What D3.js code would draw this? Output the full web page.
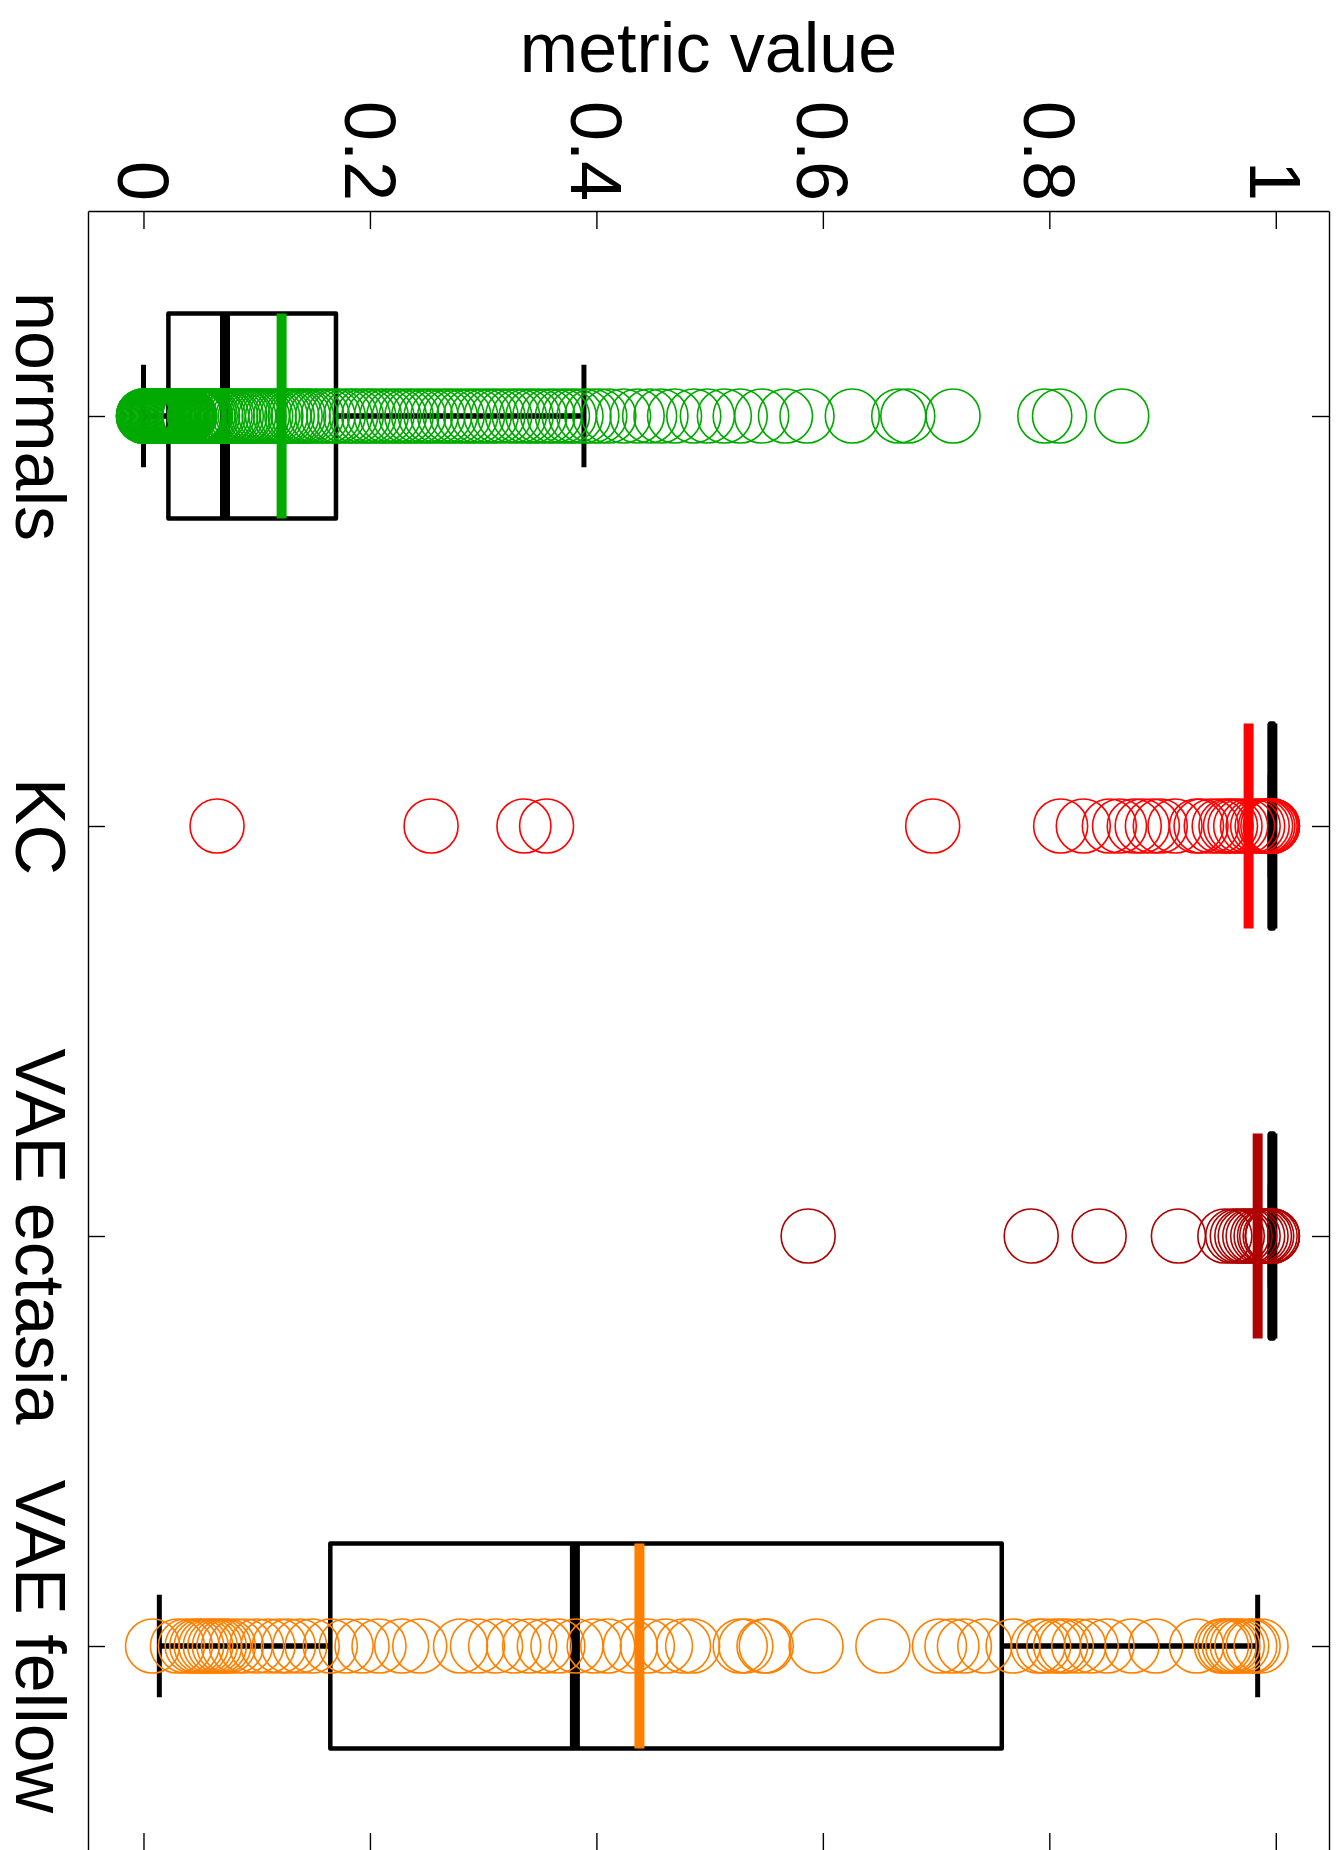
<!DOCTYPE html>
<html>
<head>
<meta charset="utf-8">
<script src="https://cdn.jsdelivr.net/npm/d3@7"></script>
<style>
  body { margin: 0; background: #fff; }
  svg { display: block; }
</style>
</head>
<body>
<script>
// values
const categories = ["normals", "KC", "VAE ectasia", "VAE fellow"];
const xTicks = [0, 0.2, 0.4, 0.6, 0.8, 1];

const normalsValues = [
  0, 0, 0, 0.001, 0.002, 0.003, 0.003, 0.004, 0.005, 0.006, 0.007, 0.008, 0.009, 0.010,
  0.011, 0.012, 0.012, 0.013, 0.014, 0.015, 0.016, 0.017, 0.018, 0.019, 0.020, 0.021,
  0.022, 0.023, 0.024, 0.025, 0.026, 0.027, 0.028, 0.029, 0.030, 0.031, 0.032, 0.033,
  0.034, 0.035, 0.036, 0.037, 0.038, 0.039, 0.040, 0.041, 0.045, 0.046, 0.047, 0.048,
  0.049, 0.050, 0.052, 0.053, 0.054, 0.055, 0.057,
  0.059, 0.061, 0.064, 0.066, 0.069, 0.072, 0.074, 0.077, 0.079, 0.082, 0.085, 0.088,
  0.090, 0.093, 0.096, 0.099, 0.102, 0.105, 0.108, 0.111, 0.114, 0.117, 0.121, 0.124,
  0.127, 0.131, 0.134, 0.137, 0.141, 0.144, 0.148,
  0.153, 0.158, 0.163, 0.168, 0.172, 0.178, 0.183, 0.188, 0.194, 0.199, 0.204, 0.210,
  0.215, 0.221, 0.226, 0.232, 0.237, 0.243, 0.249, 0.254, 0.260, 0.266, 0.271, 0.277,
  0.283, 0.289, 0.295, 0.301, 0.307, 0.313, 0.319, 0.326, 0.332, 0.338, 0.344, 0.350,
  0.357, 0.363, 0.370, 0.376, 0.382, 0.389, 0.396, 0.403,
  0.411, 0.424, 0.436, 0.447, 0.457, 0.469, 0.486, 0.498, 0.513, 0.527, 0.546, 0.567,
  0.586, 0.626, 0.667, 0.675, 0.715, 0.796, 0.809, 0.864
];
const kcValues = [
  0.065, 0.254, 0.336, 0.356, 0.697, 0.810, 0.830, 0.853, 0.862, 0.875, 0.882, 0.891,
  0.898, 0.911, 0.930, 0.934, 0.943, 0.950, 0.956, 0.960, 0.964, 0.969, 0.975, 0.980,
  0.984, 0.988, 0.991, 0.993, 0.995, 0.996, 0.997, 0.997, 0.997, 0.997
];
const ectasiaValues = [
  0.587, 0.784, 0.844, 0.914, 0.955, 0.962, 0.966, 0.970, 0.973, 0.977, 0.980, 0.984,
  0.987, 0.990, 0.992, 0.995, 0.997, 0.997, 0.997
];
const fellowValues = [
  0.008, 0.030, 0.037, 0.043, 0.047, 0.051, 0.055, 0.059, 0.063, 0.067, 0.071, 0.075,
  0.082, 0.090, 0.100, 0.110, 0.120, 0.128, 0.138, 0.149, 0.165, 0.179, 0.193, 0.208,
  0.228, 0.244, 0.280, 0.295, 0.311, 0.327, 0.341, 0.354, 0.366, 0.382, 0.398, 0.410,
  0.430, 0.445, 0.461, 0.477, 0.485, 0.527, 0.532, 0.548, 0.550, 0.594, 0.653, 0.703,
  0.714, 0.725, 0.743, 0.768, 0.790, 0.795, 0.804, 0.810, 0.815, 0.826, 0.837, 0.851,
  0.873, 0.894, 0.930, 0.952, 0.955, 0.959, 0.962, 0.966, 0.970, 0.977, 0.980, 0.987
];

// box statistics per category
const lowerWhisker = [0.000, 0.995, 0.995, 0.014];
const q1Values     = [0.022, 0.995, 0.995, 0.165];
const medianValues = [0.072, 0.997, 0.997, 0.381];
const q3Values     = [0.170, 0.998, 0.998, 0.758];
const upperWhisker = [0.389, 0.998, 0.998, 0.984];
const meanValues   = [0.122, 0.976, 0.984, 0.438];

const groupValues = [normalsValues, kcValues, ectasiaValues, fellowValues];
const groupColors = ["#00aa00", "#ff0000", "#b00000", "#ff8000"];

const width = 1339;
const height = 1850;
const plotLeft = 88, plotRight = 1329, plotTop = 211, plotBottom = 1851;
const font = "'Liberation Sans', Arial, Helvetica, sans-serif";

const svg = d3.select('body').append('svg').attr('width', width).attr('height', height);

const x = d3.scaleLinear().domain([-0.049, 1.047]).range([plotLeft, plotRight]);
const y = d3.scaleLinear().domain([0.5, 4.5]).range([plotTop, plotBottom]);

const boxHalf = y(1.25) - y(1);
const capHalf = y(1.125) - y(1);

const groups = categories.map((name, i) => ({
  name: name,
  pos: i + 1,
  values: groupValues[i],
  color: groupColors[i],
  lo: lowerWhisker[i], q1: q1Values[i], med: medianValues[i],
  q3: q3Values[i], hi: upperWhisker[i], mean: meanValues[i]
}));

// boxes and whiskers
const boxG = svg.append('g');
boxG.selectAll('rect.box')
  .data(groups)
  .enter()
  .append('rect')
  .attr('class', 'box')
  .attr('x', d => x(d.q1))
  .attr('y', d => y(d.pos) - boxHalf)
  .attr('width', d => x(d.q3) - x(d.q1))
  .attr('height', 2 * boxHalf)
  .style('fill', 'none')
  .style('stroke', 'black')
  .style('stroke-width', 4.5)
  .style('stroke-linejoin', 'round');

boxG.selectAll('line.whiskerLow')
  .data(groups)
  .enter()
  .append('line')
  .attr('x1', d => x(d.lo)).attr('x2', d => x(d.q1))
  .attr('y1', d => y(d.pos)).attr('y2', d => y(d.pos))
  .style('stroke', 'black').style('stroke-width', 5.5);

boxG.selectAll('line.whiskerHigh')
  .data(groups)
  .enter()
  .append('line')
  .attr('x1', d => x(d.q3)).attr('x2', d => x(d.hi))
  .attr('y1', d => y(d.pos)).attr('y2', d => y(d.pos))
  .style('stroke', 'black').style('stroke-width', 5.5);

boxG.selectAll('line.cap')
  .data(groups.flatMap(g => [{v: g.lo, pos: g.pos}, {v: g.hi, pos: g.pos}]))
  .enter()
  .append('line')
  .attr('x1', d => x(d.v)).attr('x2', d => x(d.v))
  .attr('y1', d => y(d.pos) - capHalf).attr('y2', d => y(d.pos) + capHalf)
  .style('stroke', 'black').style('stroke-width', 5);

boxG.selectAll('line.median')
  .data(groups)
  .enter()
  .append('line')
  .attr('x1', d => x(d.med)).attr('x2', d => x(d.med))
  .attr('y1', d => y(d.pos) - boxHalf).attr('y2', d => y(d.pos) + boxHalf)
  .style('stroke', 'black').style('stroke-width', 10);

// all the points, open circles
groups.forEach(g => {
  svg.append('g')
    .selectAll('circle')
    .data(g.values)
    .enter()
    .append('circle')
    .attr('cx', d => x(d))
    .attr('cy', y(g.pos))
    .attr('r', 27)
    .style('fill', 'none')
    .style('stroke', g.color)
    .style('stroke-width', 1.6);
});

// mean lines on top
svg.append('g').selectAll('line')
  .data(groups)
  .enter()
  .append('line')
  .attr('x1', d => x(d.mean)).attr('x2', d => x(d.mean))
  .attr('y1', d => y(d.pos) - boxHalf).attr('y2', d => y(d.pos) + boxHalf)
  .style('stroke', d => d.color).style('stroke-width', 10);

// axes (frame with inward ticks)
function styleAxis(g) {
  g.attr('font-family', font).attr('font-size', 72);
  g.select('.domain').style('stroke', 'black').style('stroke-width', 1.4);
  g.selectAll('.tick line').style('stroke', 'black').style('stroke-width', 1.4);
  g.selectAll('.tick text').style('fill', 'black');
}

const topAxis = svg.append('g')
  .attr('transform', `translate(0,${plotTop})`)
  .call(d3.axisTop(x).tickValues(xTicks).tickSize(-18).tickSizeOuter(0).tickFormat(d => String(d)))
  .call(styleAxis);
topAxis.selectAll('.tick text')
  .attr('x', 0).attr('y', 0).attr('dy', '0.36em')
  .attr('text-anchor', 'end')
  .attr('transform', 'translate(0,-10) rotate(90)');

svg.append('g')
  .attr('transform', `translate(0,${plotBottom})`)
  .call(d3.axisBottom(x).tickValues(xTicks).tickSize(-18).tickSizeOuter(0).tickFormat(''))
  .call(styleAxis);

// category labels, rotated, baseline a bit in from the page edge
const leftAxis = svg.append('g')
  .attr('transform', `translate(${plotLeft},0)`)
  .call(d3.axisLeft(y).tickValues([1, 2, 3, 4]).tickSize(-17).tickSizeOuter(0).tickFormat(d => categories[d - 1]))
  .call(styleAxis);
leftAxis.selectAll('.tick text')
  .attr('x', 0).attr('y', 0).attr('dy', 0)
  .attr('text-anchor', 'middle')
  .attr('font-size', 70)
  .attr('transform', `translate(${16 - plotLeft},0) rotate(90)`);

svg.append('g')
  .attr('transform', `translate(${plotRight},0)`)
  .call(d3.axisRight(y).tickValues([1, 2, 3, 4]).tickSize(-17).tickSizeOuter(0).tickFormat(''))
  .call(styleAxis);

// title
svg.append('text')
  .attr('x', (plotLeft + plotRight) / 2)
  .attr('y', 72)
  .attr('text-anchor', 'middle')
  .style('font-family', font)
  .style('font-size', '70px')
  .style('fill', 'black')
  .text('metric value');
</script>
</body>
</html>
